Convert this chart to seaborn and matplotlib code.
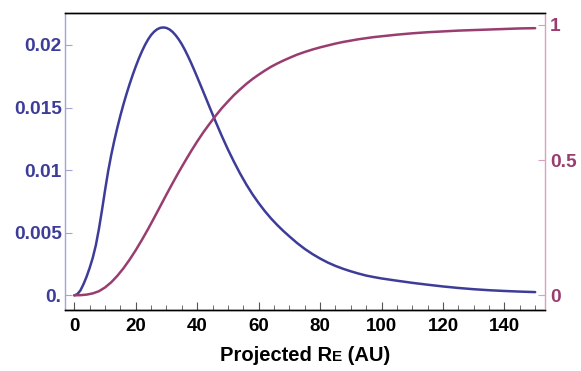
import matplotlib
matplotlib.use("Agg")
import matplotlib.pyplot as plt
import seaborn as sns
import pandas as pd
from matplotlib.offsetbox import TextArea, HPacker, AnchoredOffsetbox
from matplotlib.ticker import MultipleLocator

# ---- data ----
pdf_x = [0, 1, 2, 3, 4, 5, 6, 7, 8, 9, 10, 11, 12, 13, 14, 15, 16, 17, 18, 19,
         20, 21, 22, 23, 24, 25, 26, 27, 28, 29, 30, 31, 32, 33, 34, 35, 36, 37,
         38, 39, 40, 42, 44, 46, 48, 50, 52, 54, 56, 58, 60, 62, 64, 66, 68, 70,
         72.5, 75, 77.5, 80, 82.5, 85, 87.5, 90, 92.5, 95, 97.5, 100, 105, 110,
         115, 120, 125, 130, 135, 140, 145, 150]
pdf_y = [0.0, 0.0001, 0.0004, 0.0009, 0.0015, 0.0022, 0.0030, 0.0040, 0.0053,
         0.0068, 0.0084, 0.0099, 0.0112, 0.01235, 0.0134, 0.01437, 0.01527, 0.0161,
         0.01688, 0.01761, 0.01829, 0.01892, 0.01949, 0.0200, 0.02044, 0.0208,
         0.02107, 0.02126, 0.02137, 0.0214, 0.02136, 0.02124, 0.02104, 0.02077,
         0.02044, 0.02005, 0.0196, 0.0191, 0.01857, 0.01801, 0.01743, 0.01625,
         0.01505, 0.01387, 0.01273, 0.01165, 0.01065, 0.00971, 0.00885, 0.00807,
         0.00737, 0.00673, 0.00615, 0.00563, 0.00515, 0.00471, 0.00418, 0.00371,
         0.0033, 0.00294, 0.00262, 0.00235, 0.00212, 0.00192, 0.00174, 0.00158,
         0.00146, 0.00135, 0.00117, 0.00100, 0.00085, 0.00071, 0.00059, 0.00049,
         0.00041, 0.00035, 0.00030, 0.00026]

cdf_x = [0, 2, 4, 6, 8, 10, 12, 14, 16, 18, 20, 22, 24, 26, 28, 30, 32, 34, 36,
         38, 40, 42, 44, 46, 48, 50, 52, 54, 56, 58, 60, 62, 64, 66, 68, 70, 72.5,
         75, 77.5, 80, 82.5, 85, 87.5, 90, 92.5, 95, 97.5, 100, 105, 110, 115,
         120, 125, 130, 135, 140, 145, 150]
cdf_y = [0.0, 0.0005, 0.0025, 0.007, 0.015, 0.029, 0.048, 0.072, 0.100, 0.132,
         0.167, 0.205, 0.245, 0.287, 0.330, 0.373, 0.415, 0.456, 0.495, 0.533,
         0.569, 0.603, 0.634, 0.664, 0.692, 0.717, 0.741, 0.762, 0.782, 0.800,
         0.816, 0.831, 0.845, 0.857, 0.868, 0.878, 0.890, 0.900, 0.909, 0.917,
         0.924, 0.931, 0.937, 0.942, 0.947, 0.951, 0.955, 0.958, 0.964, 0.969,
         0.973, 0.976, 0.979, 0.981, 0.983, 0.985, 0.987, 0.988]

left_ticks = [0, 0.005, 0.01, 0.015, 0.02]
left_labels = ["0.", "0.005", "0.01", "0.015", "0.02"]
right_ticks = [0, 0.5, 1]
right_labels = ["0", "0.5", "1"]
x_ticks = [0, 20, 40, 60, 80, 100, 120, 140]

pdf_df = pd.DataFrame({"x": pdf_x, "y": pdf_y})
cdf_df = pd.DataFrame({"x": cdf_x, "y": cdf_y})

BLUE = "#3D3D99"
PURPLE = "#993D71"
BLUE_SPINE = "#A3A3D6"
PURPLE_SPINE = "#D3A3BF"

sns.set_style("white")
plt.rcParams["font.family"] = ["Liberation Sans", "DejaVu Sans"]
plt.rcParams["font.weight"] = "bold"

fig = plt.figure(figsize=(5.81, 3.71), dpi=100)
ax = fig.add_axes([64.5 / 581, 1 - 310 / 371, (545 - 64.5) / 581, (310 - 13.3) / 371])
ax2 = ax.twinx()

sns.lineplot(data=pdf_df, x="x", y="y", ax=ax, color=BLUE, linewidth=1.8)
sns.lineplot(data=cdf_df, x="x", y="y", ax=ax2, color=PURPLE, linewidth=1.8)

ax.set_xlim(-3.2, 153.2)
ax.set_ylim(-0.00117, 0.02253)
ax2.set_ylim(-0.0544, 1.043)

ax.set_xticks(x_ticks)
ax.set_xticklabels([str(t) for t in x_ticks], fontsize=13.5, fontweight="bold", color="black")
ax.xaxis.set_minor_locator(MultipleLocator(5))
ax.set_yticks(left_ticks)
ax.set_yticklabels(left_labels, fontsize=13.8, fontweight="bold", color=BLUE)
ax2.set_yticks(right_ticks)
ax2.set_yticklabels(right_labels, fontsize=13.8, fontweight="bold", color=PURPLE)

ax.tick_params(axis="x", which="major", direction="in", length=6, width=0.8,
               color="#555555", pad=6, bottom=True)
ax.tick_params(axis="x", which="minor", direction="in", length=3.5, width=0.6,
               color="#555555", bottom=True)
ax.tick_params(axis="y", which="major", direction="in", length=5, width=0.8,
               color=BLUE_SPINE, pad=2, left=True)
ax2.tick_params(axis="y", which="major", direction="in", length=5, width=0.8,
                color=PURPLE_SPINE, pad=3.5, right=True)

for a in (ax, ax2):
    for s in a.spines.values():
        s.set_linewidth(1.0)
ax.spines["top"].set_color("black")
ax.spines["bottom"].set_color("black")
ax.spines["left"].set_color(BLUE_SPINE)
ax.spines["right"].set_visible(False)
ax2.spines["right"].set_color(PURPLE_SPINE)
ax2.spines["left"].set_visible(False)
ax2.spines["top"].set_color("black")
ax2.spines["bottom"].set_color("black")

ax.set_xlabel("")
ax.set_ylabel("")
ax2.set_ylabel("")

# x-axis label with small-caps style "E"
tp_big = dict(fontsize=14.5, fontweight="bold", color="black")
tp_small = dict(fontsize=11, fontweight="bold", color="black")
box = HPacker(children=[TextArea("Projected R", textprops=tp_big),
                        TextArea("E", textprops=tp_small),
                        TextArea(" (AU)", textprops=tp_big)],
              align="baseline", pad=0, sep=0)
anch = AnchoredOffsetbox(loc="upper center", child=box, pad=0, frameon=False,
                         bbox_to_anchor=(0.5, -0.123), bbox_transform=ax.transAxes,
                         borderpad=0)
ax.add_artist(anch)

fig.savefig("out.png", dpi=100)
